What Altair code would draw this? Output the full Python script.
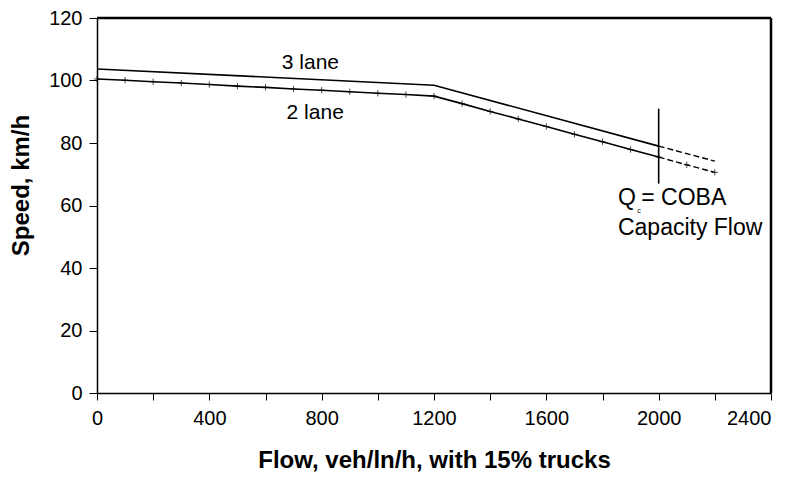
import altair as alt
import pandas as pd

# 2 lane (markers every 100 veh/ln/h)
flow2 = [0, 100, 200, 300, 400, 500, 600, 700, 800, 900, 1000, 1100, 1200,
         1300, 1400, 1500, 1600, 1700, 1800, 1900, 2000, 2100, 2200]
speed2 = [100.5, 100.1, 99.6, 99.2, 98.7, 98.2, 97.8, 97.3, 96.9, 96.4, 95.9, 95.5, 95.0,
          92.6, 90.1, 87.7, 85.3, 82.8, 80.4, 77.9, 75.5, 73.0, 70.6]
# 3 lane
flow3 = [0, 1200, 2000, 2200]
speed3 = [103.7, 98.5, 79.0, 74.2]

capacity_flow = 2000
cap_y = [67, 91]

labels_txt = ["3 lane", "2 lane"]
labels_x = [760, 777]
labels_y = [105.5, 89.5]

note_txt = ["Q", "= COBA", "Capacity Flow"]
note_x = [1855, 1938, 1855]
note_y = [62.4, 62.4, 52.8]

y_ticks = [0, 20, 40, 60, 80, 100, 120]

FONT = "Liberation Sans"

rows = []
for f, s in zip(flow2, speed2):
    if f <= capacity_flow:
        rows.append({"flow": f, "speed": s, "series": "2 lane", "part": "solid"})
    if f >= capacity_flow:
        rows.append({"flow": f, "speed": s, "series": "2 lane", "part": "dash"})
for f, s in zip(flow3, speed3):
    if f <= capacity_flow:
        rows.append({"flow": f, "speed": s, "series": "3 lane", "part": "solid"})
    if f >= capacity_flow:
        rows.append({"flow": f, "speed": s, "series": "3 lane", "part": "dash"})
df = pd.DataFrame(rows)
df_pts = pd.DataFrame({"flow": flow2, "speed": speed2})

xs = alt.Scale(domain=[0, 2400], nice=False)
ys = alt.Scale(domain=[0, 120], nice=False)

x_enc = alt.X("flow:Q", scale=xs, axis=alt.Axis(
    values=list(range(0, 2401, 200)), labelExpr="datum.value % 400 == 0 ? datum.label : ''",
    labelAlign={"condition": {"test": "datum.value >= 2400", "value": "right"}, "value": "center"},
    title="Flow, veh/ln/h, with 15% trucks", titleFontSize=24, titleFontWeight="bold",
    titleFont=FONT, titlePadding=20, labelFont=FONT, labelFontSize=20, labelColor="black",
    titleColor="black", domainColor="black", domainWidth=1.5, tickColor="black", tickSize=7,
    labelPadding=8, grid=False, format="d", labelFlush=False, labelOverlap=False))
y_enc = alt.Y("speed:Q", scale=ys, axis=alt.Axis(
    values=y_ticks, title="Speed, km/h", titleFontSize=24, titleFontWeight="bold",
    titleFont=FONT, titlePadding=15, titleY=167, labelFont=FONT, labelFontSize=20,
    labelColor="black", titleColor="black", domainColor="black", domainWidth=1.5,
    tickColor="black", tickSize=8, labelPadding=7, grid=False, labelFlush=False))

solid = alt.Chart(df[df.part == "solid"]).mark_line(color="black", strokeWidth=1.6).encode(
    x=x_enc, y=y_enc, detail="series:N")
dash = alt.Chart(df[df.part == "dash"]).mark_line(color="black", strokeWidth=1.4,
                                                  strokeDash=[6, 3]).encode(
    x="flow:Q", y="speed:Q", detail="series:N")
pts = alt.Chart(df_pts).mark_point(shape="M0,-1L0,1M-1,0L1,0", size=40, color="black",
                                   filled=False, strokeWidth=1).encode(x="flow:Q", y="speed:Q")

cap_df = pd.DataFrame({"flow": [capacity_flow], "y1": [cap_y[0]], "y2": [cap_y[1]]})
cap = alt.Chart(cap_df).mark_rule(color="black", strokeWidth=1.6).encode(
    x="flow:Q", y="y1:Q", y2="y2:Q")

# frame: top and right borders of the plot area
top_border = alt.Chart().mark_rule(color="black", strokeWidth=2.5).encode(
    x=alt.value(0), x2=alt.value(674), y=alt.value(0))
right_border = alt.Chart().mark_rule(color="black", strokeWidth=2.5).encode(
    x=alt.value(674), y=alt.value(0), y2=alt.value(375))

lab_df = pd.DataFrame({"t": labels_txt, "x": labels_x, "y": labels_y})
labs = alt.Chart(lab_df).mark_text(font=FONT, fontSize=21, color="black").encode(
    x="x:Q", y="y:Q", text="t:N")

note_df = pd.DataFrame({"t": note_txt, "x": note_x, "y": note_y})
notes = alt.Chart(note_df).mark_text(font=FONT, fontSize=23, color="black", align="left").encode(
    x="x:Q", y="y:Q", text="t:N")
sub = alt.Chart(pd.DataFrame({"t": ["c"], "x": [1924], "y": [58.4]})).mark_text(
    font=FONT, fontSize=7, color="black", align="left").encode(x="x:Q", y="y:Q", text="t:N")

chart = alt.layer(solid, dash, pts, cap, top_border, right_border, labs, notes, sub).properties(
    width=674, height=375,
    background="white",
    autosize=alt.AutoSizeParams(type="none"),
    padding={"left": 89, "top": 10, "right": 10, "bottom": 81},
).configure_view(stroke=None)

chart.save("out.html", embed_options={"renderer": "svg", "actions": False})
